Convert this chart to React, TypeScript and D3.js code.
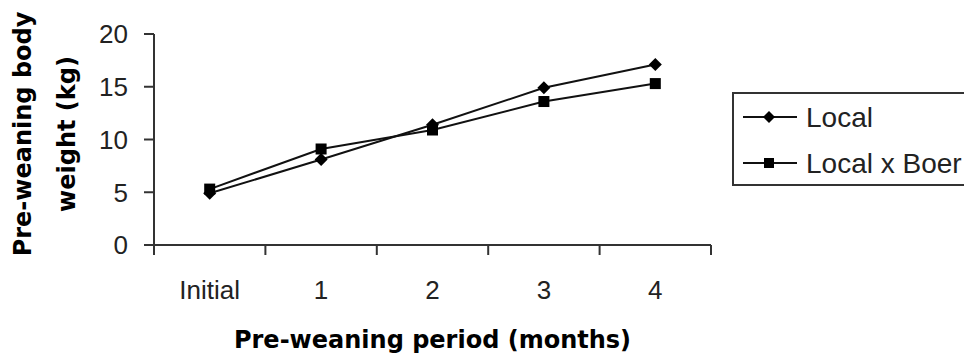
import React from "react";
import * as d3 from "d3";

// Pre-weaning body weight of kids by genotype
const periods = ["Initial", "1", "2", "3", "4"];
const localWeights = [4.9, 8.1, 11.4, 14.9, 17.1];
const crossWeights = [5.3, 9.1, 10.9, 13.6, 15.3];
const yTicks = [0, 5, 10, 15, 20];
const seriesNames = ["Local", "Local x Boer"];

const W = 964;
const H = 356;
const plot = { left: 154, right: 711, top: 34, bottom: 245 };
const axisColor = "#333";
const tickFont = "'Liberation Sans', Arial, sans-serif";
const titleFont = "'DejaVu Sans', Verdana, sans-serif";

function Diamond({ x, y, r = 6.5 }: { x: number; y: number; r?: number }) {
  return <path d={`M${x},${y - r}L${x + r},${y}L${x},${y + r}L${x - r},${y}Z`} fill="#000" />;
}
function Square({ x, y, s = 11 }: { x: number; y: number; s?: number }) {
  return <rect x={x - s / 2} y={y - s / 2} width={s} height={s} fill="#000" />;
}

export default function App() {
  const x = d3.scaleBand<string>().domain(periods).range([plot.left, plot.right]).paddingInner(0).paddingOuter(0);
  const y = d3.scaleLinear().domain([0, 20]).range([plot.bottom, plot.top]);
  const cx = (p: string) => (x(p) as number) + x.bandwidth() / 2;

  const line = d3
    .line<number>()
    .x((_, i) => cx(periods[i]))
    .y((d) => y(d));

  const boundaries = [...periods.map((p) => x(p) as number), plot.right];

  return (
    <svg
      width={W}
      height={H}
      viewBox={`0 0 ${W} ${H}`}
      style={{ position: "absolute", left: 0, top: 0, background: "#fff", overflow: "hidden" }}
    >
      {/* Y axis */}
      <line x1={plot.left} x2={plot.left} y1={plot.top} y2={plot.bottom} stroke={axisColor} strokeWidth={2} />
      {yTicks.map((t) => (
        <g key={t}>
          <line x1={plot.left - 10} x2={plot.left} y1={y(t)} y2={y(t)} stroke={axisColor} strokeWidth={2} />
          <text
            x={plot.left - 26}
            y={y(t)}
            dy="0.36em"
            textAnchor="end"
            fontFamily={tickFont}
            fontSize={26}
            fill="#222"
          >
            {t}
          </text>
        </g>
      ))}

      {/* X axis */}
      <line x1={plot.left} x2={plot.right} y1={plot.bottom} y2={plot.bottom} stroke={axisColor} strokeWidth={2} />
      {boundaries.map((b, i) => (
        <line key={i} x1={b} x2={b} y1={plot.bottom} y2={plot.bottom + 10} stroke={axisColor} strokeWidth={2} />
      ))}
      {periods.map((p) => (
        <text key={p} x={cx(p)} y={299} textAnchor="middle" fontFamily={tickFont} fontSize={26} fill="#222">
          {p}
        </text>
      ))}

      {/* Series */}
      <path d={line(localWeights) || ""} fill="none" stroke="#111" strokeWidth={2} />
      <path d={line(crossWeights) || ""} fill="none" stroke="#111" strokeWidth={2} />
      {localWeights.map((v, i) => (
        <Diamond key={`l${i}`} x={cx(periods[i])} y={y(v)} />
      ))}
      {crossWeights.map((v, i) => (
        <Square key={`c${i}`} x={cx(periods[i])} y={y(v)} />
      ))}

      {/* Axis titles */}
      <text
        x={(plot.left + plot.right) / 2}
        y={348}
        textAnchor="middle"
        fontFamily={titleFont}
        fontWeight="bold"
        fontSize={24}
        fill="#000"
      >
        Pre-weaning period (months)
      </text>
      <g transform={`translate(0, 134) rotate(-90)`}>
        <text x={0} y={31} textAnchor="middle" fontFamily={titleFont} fontWeight="bold" fontSize={24} fill="#000">
          Pre-weaning body
        </text>
        <text x={0} y={75} textAnchor="middle" fontFamily={titleFont} fontWeight="bold" fontSize={24} fill="#000">
          weight (kg)
        </text>
      </g>

      {/* Legend */}
      <rect x={733} y={93} width={260} height={92} fill="#fff" stroke={axisColor} strokeWidth={2} />
      {seriesNames.map((name, i) => {
        const ly = 117 + i * 46;
        return (
          <g key={name}>
            <line x1={743} x2={797} y1={ly} y2={ly} stroke="#111" strokeWidth={2} />
            {i === 0 ? <Diamond x={769} y={ly} r={6} /> : <Square x={769} y={ly} s={10} />}
            <text x={806} y={ly} dy="0.36em" fontFamily={tickFont} fontSize={28} fill="#222">
              {name}
            </text>
          </g>
        );
      })}
    </svg>
  );
}
